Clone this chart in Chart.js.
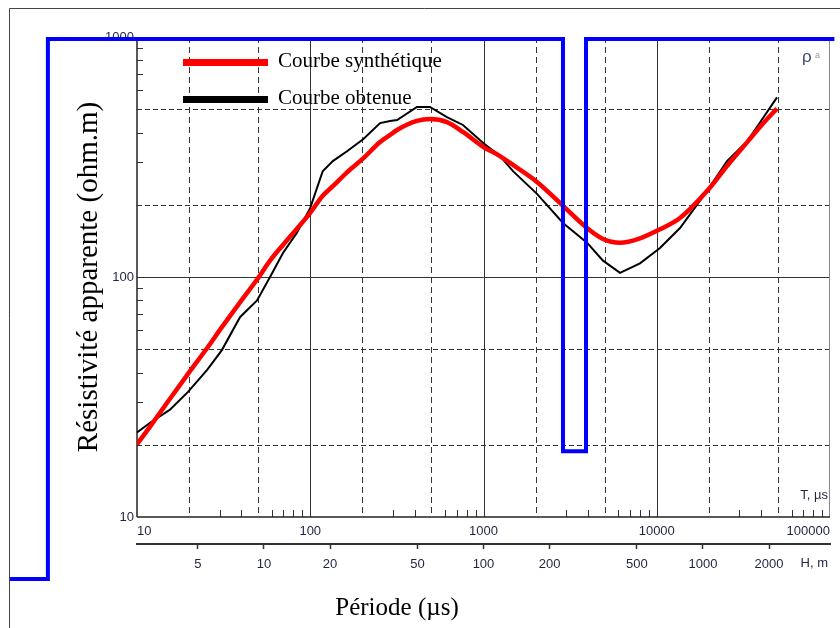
<!DOCTYPE html>
<html>
<head>
<meta charset="utf-8">
<script src="https://cdn.jsdelivr.net/npm/chart.js@4.4.1/dist/chart.umd.min.js"></script>
<style>
html, body { margin: 0; padding: 0; background: #fff; }
</style>
</head>
<body>
<canvas id="resChart" width="840" height="628"></canvas>
<script>
// periode T (µs)
var periods = [10, 11.9, 15.5, 19.7, 25.4, 30.9, 39.3, 49.3, 58.6, 69.6, 83.8, 100, 118, 135, 163, 202, 253, 289, 317, 413, 491, 615, 761, 1000, 1245, 1480, 2036, 2877, 3958, 4897, 6138, 8004, 10440, 13620, 19500, 25440, 33190, 41060, 49440];
// resistivite apparente (ohm.m)
var rhoSynth = [20.1, 23.8, 31.1, 39.5, 50.6, 61.8, 78.4, 97.6, 117, 136, 159, 185, 218, 239, 273, 312, 365, 391, 410, 447, 455, 442, 402, 348, 319, 293, 249, 198, 160, 144, 139, 145, 158, 176, 228, 290, 364, 436, 503];
var rhoObs = [22.5, 24.7, 28.0, 33.2, 41.0, 49.6, 68.0, 79.9, 100, 126, 153, 194, 276, 304, 334, 375, 438, 447, 451, 511, 511, 464, 430, 361, 319, 276, 222, 168, 139, 117, 104, 114, 132, 160, 228, 304, 367, 460, 560];
// trait bleu (modele)
var modelT = [106000, 3905, 3905, 2876, 2876, 3.06, 3.06, 1.85];
var modelRho = [981, 981, 18.8, 18.8, 981, 981, 5.52, 5.52];
// graduations
var tTicks = [10, 100, 1000, 10000, 100000];
var rhoTicks = [10, 100, 1000];
var hTicks = [5, 10, 20, 50, 100, 200, 500, 1000, 2000];
var hRange = [2.64, 3790];

var ink = '#333333';
var labelColor = '#1f2440';
var tickFont = { family: "'Liberation Sans', 'DejaVu Sans', sans-serif", size: 13 };
var serif = "'Liberation Serif', 'Times New Roman', serif";

function toPoints(xs, ys) {
    return xs.map(function (v, i) { return { x: v, y: ys[i] }; });
}

function seg(ctx, x1, y1, x2, y2) {
    ctx.beginPath();
    ctx.moveTo(x1, y1);
    ctx.lineTo(x2, y2);
    ctx.stroke();
}

var gridPlugin = {
    id: 'logGrid',
    beforeDatasetsDraw: function (chart) {
        var ctx = chart.ctx, a = chart.chartArea;
        var xs = chart.scales.x, ys = chart.scales.y;
        var d, p;
        ctx.save();
        ctx.lineWidth = 1;
        ctx.strokeStyle = ink;
        for (d = 10; d < 100000; d *= 10) {
            ctx.setLineDash([6, 4]);
            [2, 5].forEach(function (m) {
                p = Math.round(xs.getPixelForValue(d * m)) + 0.5;
                seg(ctx, p, a.top, p, a.bottom);
            });
            ctx.setLineDash([]);
            if (d > 10) {
                p = Math.round(xs.getPixelForValue(d)) + 0.5;
                seg(ctx, p, a.top, p, a.bottom);
            }
            [3, 4, 6, 7, 8, 9].forEach(function (m) {
                p = Math.round(xs.getPixelForValue(d * m)) + 0.5;
                seg(ctx, p, a.bottom, p, a.bottom - 7);
            });
        }
        for (d = 10; d < 1000; d *= 10) {
            ctx.setLineDash([5, 3]);
            [2, 5].forEach(function (m) {
                p = Math.round(ys.getPixelForValue(d * m)) + 0.5;
                seg(ctx, a.left, p, a.right, p);
            });
            ctx.setLineDash([]);
            if (d > 10) {
                p = Math.round(ys.getPixelForValue(d)) + 0.5;
                seg(ctx, a.left, p, a.right, p);
            }
            [3, 4, 6, 7, 8, 9].forEach(function (m) {
                p = Math.round(ys.getPixelForValue(d * m)) + 0.5;
                seg(ctx, a.left, p, a.left + 6, p);
            });
        }
        // cadre du graphe
        ctx.strokeStyle = '#888';
        seg(ctx, a.right - 0.5, a.top, a.right - 0.5, a.bottom);
        ctx.strokeStyle = '#222';
        ctx.lineWidth = 1.5;
        seg(ctx, a.left, a.bottom, a.right, a.bottom);
        seg(ctx, a.left, a.top, a.left, a.bottom);
        ctx.restore();
    },
    afterDraw: function (chart) {
        var ctx = chart.ctx, a = chart.chartArea;
        ctx.save();
        // legende
        var row = 0;
        chart.data.datasets.forEach(function (ds) {
            if (!ds.label) return;
            var y = a.top + 25.5 + row * 37;
            ctx.strokeStyle = ds.borderColor;
            ctx.lineWidth = 7;
            seg(ctx, a.left + 46, y, a.left + 131, y);
            ctx.fillStyle = '#000';
            ctx.font = '21px ' + serif;
            ctx.textAlign = 'left';
            ctx.textBaseline = 'alphabetic';
            ctx.fillText(ds.label, a.left + 141, y + 4);
            row++;
        });
        // textes des axes
        ctx.font = "13px " + tickFont.family;
        ctx.fillStyle = labelColor;
        ctx.textAlign = 'right';
        ctx.textBaseline = 'middle';
        ctx.fillText('T, µs', a.right - 2, a.bottom - 22);
        ctx.fillText('H, m', a.right - 2, 563);
        ctx.textAlign = 'left';
        ctx.textBaseline = 'alphabetic';
        ctx.fillStyle = '#3a4a6a';
        ctx.font = "17px " + tickFont.family;
        ctx.fillText('ρ', 802, 62);
        ctx.font = "9px " + tickFont.family;
        ctx.fillStyle = '#999';
        ctx.fillText('a', 815, 58);
        ctx.fillStyle = '#000';
        ctx.font = '25px ' + serif;
        ctx.textAlign = 'center';
        ctx.fillText('Période (µs)', 397, 615);
        // cadre exterieur
        ctx.strokeStyle = '#444';
        ctx.lineWidth = 1;
        ctx.beginPath();
        ctx.moveTo(9.5, 628);
        ctx.lineTo(9.5, 8.5);
        ctx.lineTo(840, 8.5);
        ctx.stroke();
        ctx.restore();
    }
};

var resChartElem = document.getElementById('resChart');
var resChart = new Chart(resChartElem, {
    type: 'line',
    data: {
        datasets: [
            {
                label: '',
                data: toPoints(modelT, modelRho),
                borderColor: '#0000ff',
                borderWidth: 4,
                borderJoinStyle: 'miter',
                clip: false,
                order: 0
            },
            {
                label: 'Courbe synthétique',
                data: toPoints(periods, rhoSynth),
                borderColor: '#ff0000',
                borderWidth: 4.5,
                cubicInterpolationMode: 'monotone',
                order: 1
            },
            {
                label: 'Courbe obtenue',
                data: toPoints(periods, rhoObs),
                borderColor: '#000000',
                borderWidth: 2,
                order: 2
            }
        ]
    },
    options: {
        responsive: false,
        animation: false,
        devicePixelRatio: 1,
        layout: { padding: { top: 37, right: 10, bottom: 0, left: 0 } },
        elements: { point: { radius: 0 } },
        plugins: { legend: { display: false }, tooltip: { enabled: false } },
        scales: {
            x: {
                type: 'logarithmic',
                position: 'bottom',
                min: 10,
                max: 100000,
                afterBuildTicks: function (s) { s.ticks = tTicks.map(function (v) { return { value: v }; }); },
                afterFit: function (s) { s.height = 27; },
                grid: { display: false, drawTicks: false },
                border: { display: false },
                ticks: {
                    callback: function (v) { return String(v); },
                    align: 'inner', padding: 7, autoSkip: false, maxRotation: 0,
                    color: labelColor, font: tickFont
                }
            },
            x2: {
                type: 'logarithmic',
                position: 'bottom',
                weight: 1,
                min: hRange[0],
                max: hRange[1],
                afterBuildTicks: function (s) { s.ticks = hTicks.map(function (v) { return { value: v }; }); },
                afterFit: function (s) { s.height = 84; },
                grid: { drawOnChartArea: false, drawTicks: true, tickLength: 5, tickColor: ink, tickWidth: 1.5 },
                border: { display: true, color: ink, width: 2 },
                ticks: {
                    callback: function (v) { return String(v); },
                    padding: 8, autoSkip: false, maxRotation: 0,
                    color: labelColor, font: tickFont
                }
            },
            y: {
                type: 'logarithmic',
                position: 'left',
                min: 10,
                max: 1000,
                afterBuildTicks: function (s) { s.ticks = rhoTicks.map(function (v) { return { value: v }; }); },
                afterFit: function (s) { s.width = 137; },
                grid: { display: false, drawTicks: false },
                border: { display: false },
                ticks: {
                    callback: function (v) { return String(v); },
                    padding: 3, autoSkip: false,
                    color: labelColor, font: tickFont
                },
                title: {
                    display: true,
                    text: 'Résistivité apparente (ohm.m)',
                    color: '#000',
                    font: { family: serif, size: 29 },
                    padding: { top: 72, bottom: 0 }
                }
            }
        }
    },
    plugins: [gridPlugin]
});
</script>
</body>
</html>
